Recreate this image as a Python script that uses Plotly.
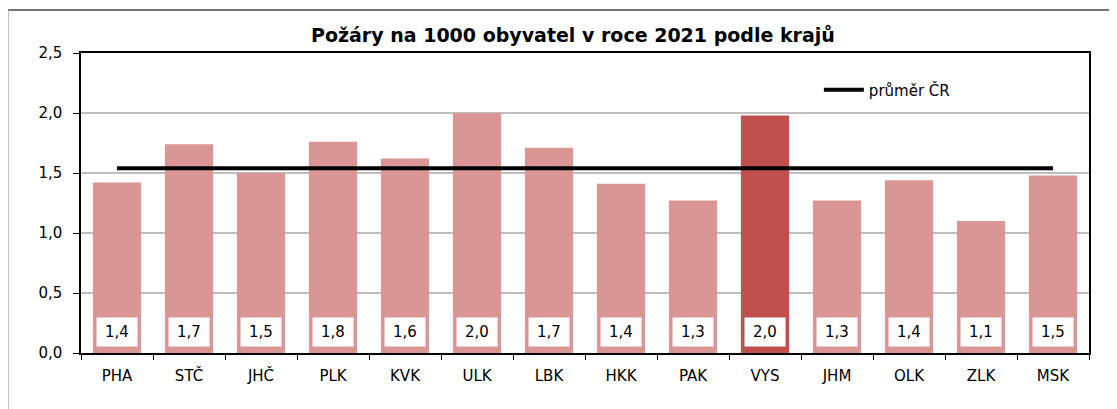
import plotly.graph_objects as go

regions = ["PHA", "STČ", "JHČ", "PLK", "KVK", "ULK", "LBK", "HKK", "PAK", "VYS", "JHM", "OLK", "ZLK", "MSK"]
fires_per_1000 = [1.42, 1.74, 1.50, 1.76, 1.62, 2.00, 1.71, 1.41, 1.27, 1.98, 1.27, 1.44, 1.10, 1.48]
cr_average = 1.54
highlight_region = "VYS"
y_ticks = [0.0, 0.5, 1.0, 1.5, 2.0, 2.5]

FONT = "DejaVu Sans"
base_color = "#DA9694"
hi_color = "#C0504D"
colors = [hi_color if r == highlight_region else base_color for r in regions]

fig = go.Figure()
fig.add_trace(go.Bar(
    x=regions, y=fires_per_1000, marker=dict(color=colors, line=dict(width=0)),
    showlegend=False, hoverinfo="x+y",
))
fig.add_trace(go.Scatter(
    x=[regions[0], regions[-1]], y=[cr_average, cr_average], mode="lines",
    line=dict(color="black", width=4), name="průměr ČR",
))

for r, v in zip(regions, fires_per_1000):
    fig.add_annotation(
        x=r, y=0, xref="x", yref="y", yanchor="bottom", yshift=6,
        text=f"{v:.1f}".replace(".", ","), showarrow=False,
        font=dict(family=FONT, size=15, color="black"),
        bgcolor="white", width=28, height=16, borderpad=6,
    )

# outer chart frame (cropped on right and bottom in the reference)
fig.add_shape(type="line", xref="paper", yref="paper",
              x0=-0.0724, x1=1.06, y0=1.1433, y1=1.1433,
              line=dict(color="#444444", width=1.5))
fig.add_shape(type="line", xref="paper", yref="paper",
              x0=-0.0724, x1=-0.0724, y0=1.1433, y1=-0.3,
              line=dict(color="#b0b0b0", width=1.5))

fig.update_layout(
    width=1117, height=409,
    margin=dict(l=73, r=36, t=45, b=64),
    paper_bgcolor="white", plot_bgcolor="white",
    separators=", ",
    bargap=0.33,
    font=dict(family=FONT, size=15, color="black"),
    title=dict(text="<b>Požáry na 1000 obyvatel v roce 2021 podle krajů</b>",
               x=0.488, xref="paper", xanchor="center",
               y=1 - 27 / 409, yref="container", yanchor="middle",
               font=dict(family=FONT, size=19, color="black")),
    legend=dict(x=0.732, y=0.877, xanchor="left", yanchor="middle",
                bgcolor="rgba(0,0,0,0)", font=dict(family=FONT, size=15),
                itemwidth=40),
    xaxis=dict(
        showgrid=False, showline=True, linecolor="black", linewidth=1.5,
        mirror=True, ticks="outside", tickson="boundaries", ticklen=5,
        tickcolor="black", ticklabelstandoff=8, fixedrange=True,
    ),
    yaxis=dict(
        range=[0, 2.5], tickvals=y_ticks, tickformat=".1f",
        showgrid=True, gridcolor="#BFBFBF", gridwidth=1.5,
        showline=True, linecolor="black", linewidth=1.5, mirror=True,
        ticks="outside", ticklen=6, tickcolor="black",
        ticklabelstandoff=8, zeroline=False, fixedrange=True,
    ),
)

fig.write_html("out.html")
